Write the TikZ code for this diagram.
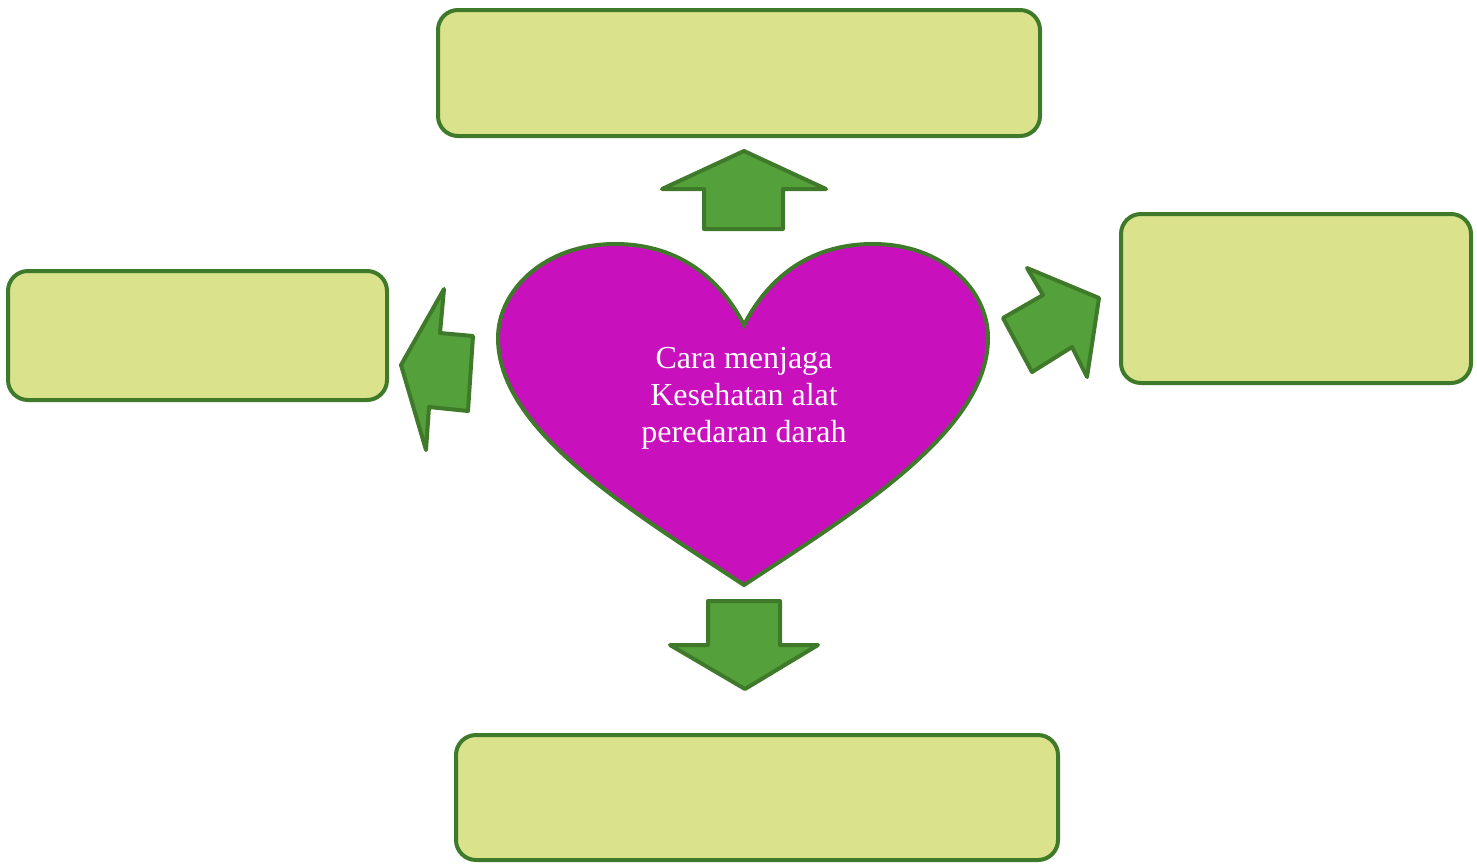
\documentclass[tikz,border=0pt]{standalone}
\usepackage{fontspec}
\setmainfont{Liberation Serif}
\definecolor{boxfill}{RGB}{219,226,140}
\definecolor{edge}{RGB}{62,122,42}
\definecolor{arrowfill}{RGB}{84,160,58}
\definecolor{heartfill}{RGB}{200,16,189}
\tikzset{
  greenbox/.style={draw=edge, line width=4pt, fill=boxfill, rounded corners=20pt, inner sep=0pt},
  blockarrow/.style={draw=edge, line width=4pt, fill=arrowfill, line join=round},
  heartshape/.style={draw=edge, line width=4pt, fill=heartfill},
  hearttext/.style={text=white, align=center, font=\fontsize{32}{37}\selectfont}
}
\begin{document}
\begin{tikzpicture}[x=1pt,y=-1pt]
\useasboundingbox (0,0) rectangle (1477,863);
% boxes
\node[greenbox, minimum width=602pt, minimum height=126pt] (top) at (739,73) {};
\node[greenbox, minimum width=379pt, minimum height=129pt] (left) at (197.5,335.5) {};
\node[greenbox, minimum width=350pt, minimum height=169pt] (right) at (1296,298.5) {};
\node[greenbox, minimum width=602pt, minimum height=125pt] (bottom) at (757,797.5) {};
% heart
\draw[heartshape] (744,325) .. controls (722,282) and (682,244) .. (615,244)
  .. controls (545,244) and (498,290) .. (498,338)
  .. controls (498,430) and (630,510) .. (744,585)
  .. controls (858,510) and (988,430) .. (988,338)
  .. controls (988,290) and (943,244) .. (873,244)
  .. controls (806,244) and (766,282) .. (744,325) -- cycle;
\node[hearttext] (center) at (744,398) {Cara menjaga\\Kesehatan alat\\peredaran darah};
% arrows
\draw[blockarrow] (744,151) -- (826,189) -- (783,189) -- (783,229) -- (704,229) -- (704,189) -- (662,189) -- cycle;
\draw[blockarrow] (745,689) -- (818,645) -- (780,645) -- (780,601) -- (708,601) -- (708,645) -- (670,645) -- cycle;
\draw[blockarrow] (401,365) -- (444,289) -- (440,333) -- (473,336) -- (468,411) -- (429,407) -- (426,450) -- cycle;
\draw[blockarrow] (1099,298) -- (1087,377) -- (1072,347) -- (1032,372) -- (1003,318) -- (1043,295) -- (1027,268) -- cycle;
\end{tikzpicture}
\end{document}
